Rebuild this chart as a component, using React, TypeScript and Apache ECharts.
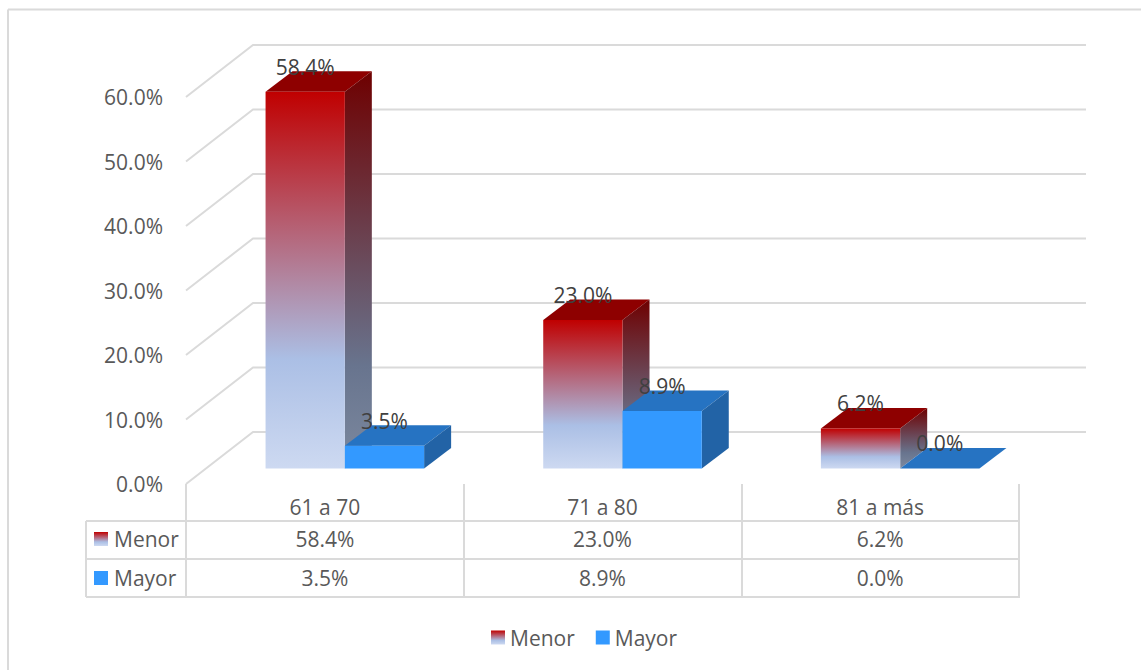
import React, { useEffect, useRef } from "react";
import * as echarts from "echarts";

const categories = ["61 a 70", "71 a 80", "81 a más"];
const menorValues = [58.4, 23.0, 6.2];
const mayorValues = [3.5, 8.9, 0.0];
const wallTicks = [0, 10, 20, 30, 40, 50, 60];

const FONT = '"Open Sans", "Noto Sans", sans-serif';
const FONT_SIZE = 21;
const TEXT = "#595959";
const LABEL = "#404040";
const RULE = "#DADADA";
const RULE_W = 2;
const WALL = { dx: 67, dy: -52 };
const BAR_DEPTH = { dx: 27, dy: -20.5 };
const BAR_SHIFT = { dx: 20, dy: -15.6 };
const BAR_SHARE = 0.2855;

const vGrad = (stops: [number, string][]) =>
  new echarts.graphic.LinearGradient(0, 0, 0, 1, stops.map(([offset, color]) => ({ offset, color })));

const menorFront = () => vGrad([[0, "#C00000"], [0.71, "#ABBFE5"], [1, "#CDD9F1"]]);
const menorSide = () => vGrad([[0, "#6E0000"], [0.74, "#68748E"], [1, "#7C899F"]]);

const fmt = (v: number) => v.toFixed(1) + "%";

function bar3d(side: number, colors: { front: () => any; top: string; side: () => any }) {
  return (_p: any, api: any) => {
    const cat = api.value(0);
    const val = api.value(1);
    const w = api.size([1, 0])[0] * BAR_SHARE;
    const [cx, vy] = api.coord([cat, val]);
    const [, by] = api.coord([cat, 0]);
    const x0 = cx + BAR_SHIFT.dx + (side < 0 ? -w : 0);
    const x1 = x0 + w;
    const top = vy + BAR_SHIFT.dy;
    const base = by + BAR_SHIFT.dy;
    const { dx, dy } = BAR_DEPTH;
    const poly = (points: number[][], fill: any) => ({
      type: "polygon",
      shape: { points },
      style: { fill, stroke: "none" },
    });
    return {
      type: "group",
      children: [
        poly([[x0, top], [x1, top], [x1 + dx, top + dy], [x0 + dx, top + dy]], colors.top),
        poly([[x1, top], [x1 + dx, top + dy], [x1 + dx, base + dy], [x1, base]], colors.side()),
        poly([[x0, top], [x1, top], [x1, base], [x0, base]], colors.front()),
        {
          type: "text",
          z2: 50,
          style: {
            text: fmt(val),
            x: (x0 + x1) / 2,
            y: top - 25,
            align: "center",
            verticalAlign: "middle",
            fill: LABEL,
            font: `${FONT_SIZE}px ${FONT}`,
          },
        },
      ],
    };
  };
}

function tableCell(rowY: number) {
  return (_p: any, api: any) => {
    const [cx] = api.coord([api.value(0), 0]);
    return {
      type: "text",
      style: {
        text: fmt(api.value(1)),
        x: cx,
        y: rowY,
        align: "center",
        verticalAlign: "middle",
        fill: TEXT,
        font: `${FONT_SIZE}px ${FONT}`,
      },
    };
  };
}

function wallLine(_p: any, api: any) {
  const v = api.value(0);
  const band = api.size([1, 0])[0];
  const [first, y] = api.coord([0, v]);
  const [last] = api.coord([categories.length - 1, v]);
  const x0 = first - band / 2;
  const x1 = last + band / 2;
  return {
    type: "polyline",
    shape: { points: [[x0, y], [x0 + WALL.dx, y + WALL.dy], [x1 + WALL.dx, y + WALL.dy]] },
    style: { stroke: RULE, lineWidth: RULE_W, fill: "none" },
  };
}

const hline = (y: number, x1: number, x2: number) => ({
  type: "line",
  shape: { x1, y1: y, x2, y2: y },
  style: { stroke: RULE, lineWidth: RULE_W },
});
const vline = (x: number, y1: number, y2: number) => ({
  type: "line",
  shape: { x1: x, y1, x2: x, y2 },
  style: { stroke: RULE, lineWidth: RULE_W },
});
const rowHead = (label: string, y: number, fill: any) => [
  { type: "rect", shape: { x: 94, y: y - 7, width: 14, height: 14 }, style: { fill } },
  {
    type: "text",
    style: { text: label, x: 114, y, verticalAlign: "middle", fill: TEXT, font: `${FONT_SIZE}px ${FONT}` },
  },
];

export default function App() {
  const ref = useRef<HTMLDivElement>(null);
  useEffect(() => {
    document.body.style.margin = "0";
    const chart = echarts.init(ref.current!, undefined, { renderer: "svg" });
    chart.setOption({
      animation: false,
      backgroundColor: "#FFFFFF",
      textStyle: { fontFamily: FONT },
      grid: { left: 186, top: 97, width: 833, height: 387 },
      legend: {
        data: ["Menor", "Mayor"],
        left: 491,
        top: 627,
        padding: 0,
        itemWidth: 14,
        itemHeight: 14,
        itemGap: 21,
        icon: "rect",
        textStyle: { color: TEXT, fontSize: FONT_SIZE, fontFamily: FONT },
      },
      xAxis: {
        type: "category",
        data: categories,
        axisLine: { show: false },
        axisTick: { show: true, length: 114, lineStyle: { color: RULE, width: RULE_W } },
        axisLabel: { color: TEXT, fontSize: FONT_SIZE, fontFamily: FONT, margin: 12 },
        splitLine: { show: false },
      },
      yAxis: {
        type: "value",
        min: 0,
        max: 60,
        interval: 10,
        axisLine: { show: false },
        axisTick: { show: false },
        splitLine: { show: false },
        axisLabel: { color: TEXT, fontSize: FONT_SIZE, fontFamily: FONT, margin: 23, formatter: (v: number) => fmt(v) },
      },
      graphic: [
        hline(9.5, 8, 1141),
        vline(8, 9.5, 670),
        hline(521, 86, 1019),
        hline(559, 86, 1019),
        hline(597, 86, 1019),
        vline(86, 521, 597),
        ...rowHead("Menor", 539, menorFront()),
        ...rowHead("Mayor", 578, "#3399FF"),
      ],
      series: [
        {
          type: "custom",
          name: "Paredes",
          coordinateSystem: "cartesian2d",
          clip: false,
          silent: true,
          data: wallTicks.map((v) => [v]),
          encode: { y: 0 },
          renderItem: wallLine,
          z: 1,
        },
        {
          type: "custom",
          name: "Menor",
          coordinateSystem: "cartesian2d",
          clip: false,
          itemStyle: { color: menorFront() },
          data: menorValues.map((v, i) => [i, v]),
          encode: { x: 0, y: 1 },
          renderItem: bar3d(-1, { front: menorFront, top: "#8E0000", side: menorSide }),
          z: 2,
        },
        {
          type: "custom",
          name: "Mayor",
          coordinateSystem: "cartesian2d",
          clip: false,
          itemStyle: { color: "#3399FF" },
          data: mayorValues.map((v, i) => [i, v]),
          encode: { x: 0, y: 1 },
          renderItem: bar3d(1, { front: () => "#3399FF", top: "#2673C2", side: () => "#2263A6" }),
          z: 3,
        },
        {
          type: "custom",
          name: "TablaMenor",
          coordinateSystem: "cartesian2d",
          clip: false,
          silent: true,
          data: menorValues.map((v, i) => [i, v]),
          encode: { x: 0, y: 1 },
          renderItem: tableCell(539),
          z: 4,
        },
        {
          type: "custom",
          name: "TablaMayor",
          coordinateSystem: "cartesian2d",
          clip: false,
          silent: true,
          data: mayorValues.map((v, i) => [i, v]),
          encode: { x: 0, y: 1 },
          renderItem: tableCell(578),
          z: 4,
        },
      ],
    });
    return () => chart.dispose();
  }, []);
  return <div ref={ref} style={{ width: 1141, height: 670 }} />;
}
